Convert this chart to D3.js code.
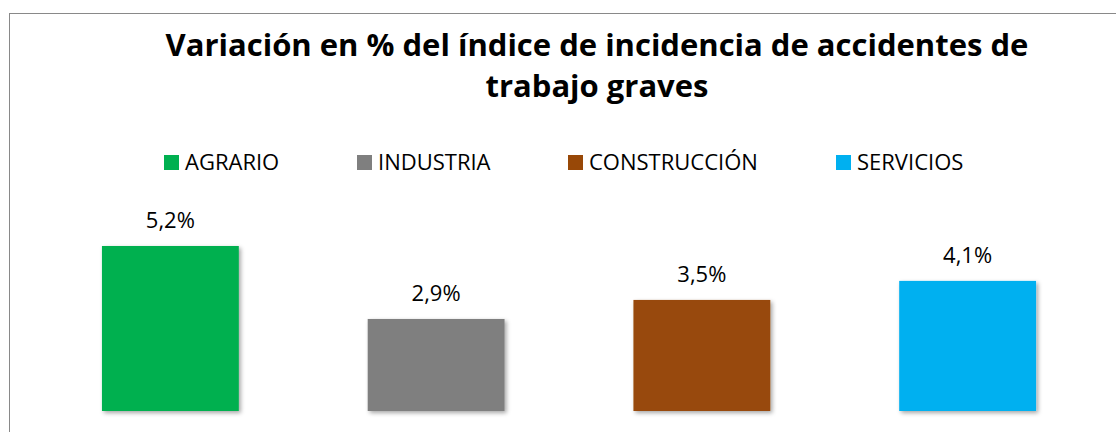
<!DOCTYPE html>
<html>
<head>
<meta charset="utf-8">
<script src="https://cdn.jsdelivr.net/npm/d3@7"></script>
<style>
  html, body { margin: 0; padding: 0; background: #fff; }
  svg { display: block; }
</style>
</head>
<body>
<div id="chart"></div>
<script>
// Chart data
const categories = ["AGRARIO", "INDUSTRIA", "CONSTRUCCIÓN", "SERVICIOS"];
const values = [5.2, 2.9, 3.5, 4.1];
const colors = ["#00b050", "#7f7f7f", "#984807", "#00b0f0"];
const titleLines = [
  "Variación en % del índice de incidencia de accidentes de",
  "trabajo graves",
];

const width = 1116,
  height = 432;
const font = "'Open Sans', sans-serif";

const svg = d3
  .select("#chart")
  .append("svg")
  .attr("width", width)
  .attr("height", height);

// soft shadow under the bars
const defs = svg.append("defs");
const shadow = defs
  .append("filter")
  .attr("id", "shadow")
  .attr("x", "-10%")
  .attr("y", "-10%")
  .attr("width", "130%")
  .attr("height", "130%");
shadow
  .append("feDropShadow")
  .attr("dx", 2)
  .attr("dy", 2)
  .attr("stdDeviation", 2)
  .attr("flood-color", "#000")
  .attr("flood-opacity", 0.35);

// chart area border (runs off the right and bottom edges)
svg
  .append("rect")
  .attr("x", 9.5)
  .attr("y", 13.5)
  .attr("width", 1200)
  .attr("height", 500)
  .attr("fill", "none")
  .attr("stroke", "#898989")
  .attr("stroke-width", 1);

// title
svg
  .append("g")
  .selectAll("text")
  .data(titleLines)
  .enter()
  .append("text")
  .attr("x", 597)
  .attr("y", (d, i) => 56 + i * 41)
  .attr("text-anchor", "middle")
  .style("font-family", font)
  .style("font-weight", "bold")
  .style("font-size", "31px")
  .attr("fill", "#000")
  .text((d) => d);

// legend
const legendX = [164, 357, 568, 836];
const legend = svg
  .append("g")
  .selectAll("g")
  .data(categories)
  .enter()
  .append("g")
  .attr("transform", (d, i) => `translate(${legendX[i]},155)`);
legend
  .append("rect")
  .attr("width", 15)
  .attr("height", 15)
  .attr("fill", (d, i) => colors[i]);
legend
  .append("text")
  .attr("x", 21)
  .attr("y", 15)
  .style("font-family", font)
  .style("font-size", "22px")
  .attr("fill", "#000")
  .text((d) => d);

// scales
const x = d3
  .scaleBand()
  .domain(categories)
  .range([37.5, 1100.5])
  .paddingInner(0.485)
  .paddingOuter(0.2425);

const y = d3.scaleLinear().domain([0, 6]).range([411, 220.6]);

const data = categories.map((c, i) => ({ cat: c, value: values[i], color: colors[i] }));

svg
  .append("g")
  .selectAll("rect")
  .data(data)
  .enter()
  .append("rect")
  .attr("x", (d) => x(d.cat))
  .attr("y", (d) => y(d.value))
  .attr("width", x.bandwidth())
  .attr("height", (d) => y(0) - y(d.value))
  .attr("fill", (d) => d.color)
  .attr("filter", "url(#shadow)");

// value labels
svg
  .append("g")
  .selectAll("text")
  .data(data)
  .enter()
  .append("text")
  .attr("x", (d) => x(d.cat) + x.bandwidth() / 2)
  .attr("y", (d) => y(d.value) - 18)
  .attr("text-anchor", "middle")
  .style("font-family", font)
  .style("font-size", "22px")
  .attr("fill", "#000")
  .text((d) => d3.format(".1f")(d.value).replace(".", ",") + "%");
</script>
</body>
</html>
